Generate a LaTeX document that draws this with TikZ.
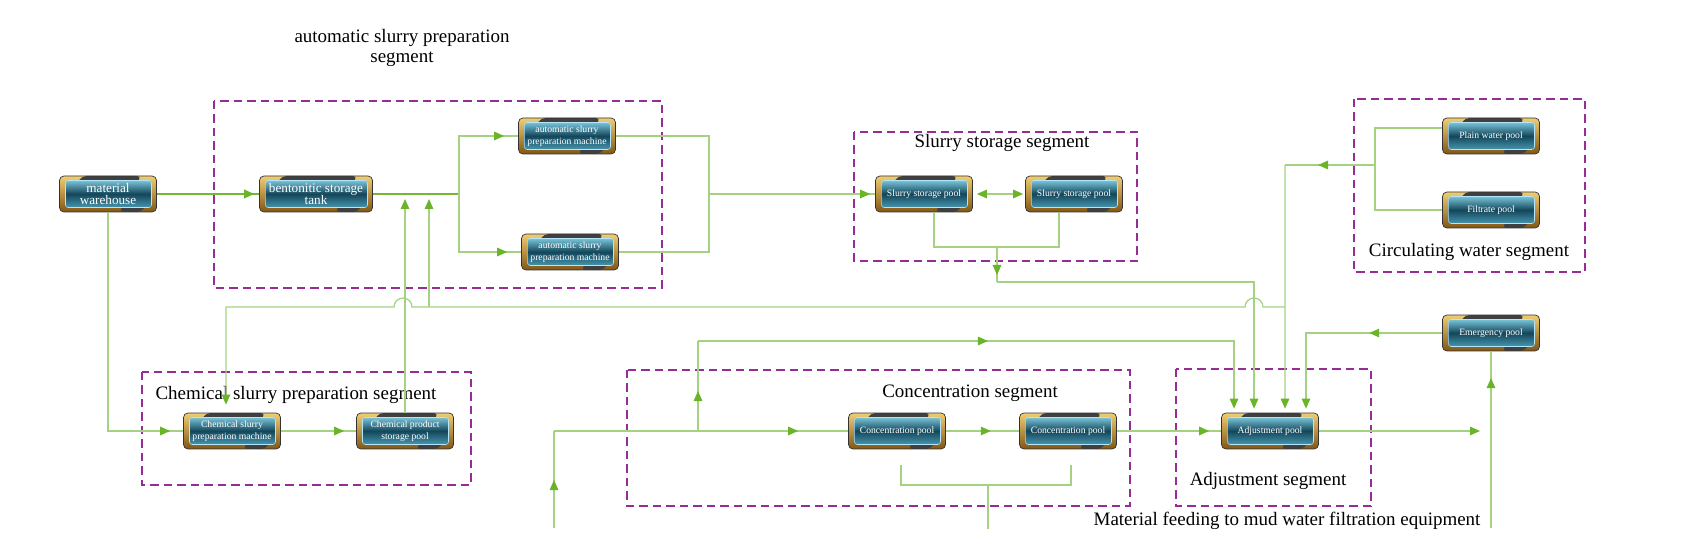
\documentclass[tikz,border=0pt]{standalone}
\usepackage{fontspec}
\setmainfont{Liberation Serif}
\usetikzlibrary{calc}
\usetikzlibrary{arrows.meta}
\usetikzlibrary{decorations.markings}
\definecolor{lcol}{RGB}{165,210,130}
\definecolor{acol}{RGB}{105,180,40}
\definecolor{mcol}{RGB}{115,185,55}
\definecolor{segcol}{RGB}{150,45,150}
\definecolor{goldA}{RGB}{240,205,115}
\definecolor{goldB}{RGB}{130,85,20}
\definecolor{tealA}{RGB}{120,195,215}
\definecolor{tealM}{RGB}{20,70,90}
\definecolor{tealB}{RGB}{70,150,175}
\newcommand{\segfont}{\fontsize{10.8}{11.5}\selectfont}
\newcommand{\poolfont}{\fontsize{5.5}{6.5}\selectfont}
\newcommand{\bigpoolfont}{\fontsize{7.5}{7}\selectfont}
\tikzset{
  midtip/.style={postaction={decorate}, decoration={markings, mark=at position #1 with {\arrow{>}}}},
  pool/.style={rounded corners=2.5pt, minimum width=1.94cm, minimum height=0.72cm, inner sep=0pt,
    draw=black!80, line width=0.4pt, top color=goldA, bottom color=goldB,
    text=white, font=\poolfont, align=center,
    path picture={
      \path (path picture bounding box.south west) coordinate (pp1)
            (path picture bounding box.north east) coordinate (pp2);
      \fill[black!75] ($(pp1|-pp2)+(0.45cm,0cm)$) -- ($(pp2)+(-0.3cm,0cm)$)
        -- ($(pp2)+(-0.4cm,-0.15cm)$) -- ($(pp1|-pp2)+(0.35cm,-0.15cm)$) -- cycle;
      \fill[black!75] ($(pp1-|pp2)+(-0.3cm,0cm)$) -- ($(pp1-|pp2)+(-0.75cm,0cm)$)
        -- ($(pp1-|pp2)+(-0.65cm,0.15cm)$) -- ($(pp1-|pp2)+(-0.2cm,0.15cm)$) -- cycle;
      \shadedraw[draw=white!70!cyan, line width=0.3pt, rounded corners=1.5pt,
        top color=tealA, bottom color=tealB, middle color=tealM]
        ($(pp1)+(0.12cm,0.09cm)$) rectangle ($(pp2)+(-0.1cm,-0.09cm)$);
    }}
}

\begin{document}
\begin{tikzpicture}[x=0.02cm, y=-0.02cm, >={Triangle[length=0.2cm, width=0.17cm, color=acol]}]
\tikzstyle{flow}=[draw=lcol, line width=0.7pt]
\tikzstyle{mainflow}=[draw=mcol, line width=1.2pt]
\tikzstyle{seg}=[draw=segcol, line width=0.8pt, dash pattern=on 0.17cm off 0.1cm]
\tikzstyle{segtitle}=[font=\segfont, align=center, inner sep=0pt]

\path[use as bounding box] (0,0) rectangle (1700,553);

% segments
\draw[seg] (214,101) rectangle (662,288);
\draw[seg] (854,132) rectangle (1137,261);
\draw[seg] (1354,99) rectangle (1585,272);
\draw[seg] (142,372) rectangle (471,485);
\draw[seg] (627,370) rectangle (1130,506);
\draw[seg] (1176,369) rectangle (1371,506);

\node[segtitle] (tA) at (402,48) {automatic slurry preparation\\segment};
\node[segtitle] (tS) at (1002,143) {Slurry storage segment};
\node[segtitle] (tW) at (1469,252) {Circulating water segment};
\node[segtitle] (tC) at (296,395) {Chemical slurry preparation segment};
\node[segtitle] (tK) at (970,393) {Concentration segment};
\node[segtitle] (tJ) at (1268,481) {Adjustment segment};
\node[segtitle] (tM) at (1287,521) {Material feeding to mud water filtration equipment};

% pools and machines
\node[pool, font=\bigpoolfont] (wh) at (108,194) {material\\warehouse};
\node[pool, font=\bigpoolfont, minimum width=2.26cm] (bt) at (316,194) {bentonitic storage\\tank};
\node[pool] (am1) at (567,136) {automatic slurry\\preparation machine};
\node[pool] (am2) at (570,252) {automatic slurry\\preparation machine};
\node[pool] (sp1) at (924,194) {Slurry storage pool};
\node[pool] (sp2) at (1074,194) {Slurry storage pool};
\node[pool] (pw) at (1491,136) {Plain water pool};
\node[pool] (fp) at (1491,210) {Filtrate pool};
\node[pool] (ep) at (1491,333) {Emergency pool};
\node[pool] (cm) at (232,431) {Chemical slurry\\preparation machine};
\node[pool] (cp) at (405,431) {Chemical product\\storage pool};
\node[pool] (c1) at (897,431) {Concentration pool};
\node[pool] (c2) at (1068,431) {Concentration pool};
\node[pool] (ap) at (1270,431) {Adjustment pool};

\coordinate (j1) at (459,194);
\coordinate (j2) at (709,194);
\coordinate (wb) at (1375,165);
\coordinate (w1) at (1285,165);
\coordinate (w2) at (1285,307);
\coordinate (w3) at (429,307);
\coordinate (sb) at (997,247);
\coordinate (s1) at (997,282);
\coordinate (k0) at (554,528);
\coordinate (k1) at (554,431);
\coordinate (k2) at (698,431);
\coordinate (k3) at (698,341);
\coordinate (kb) at (988,485);
\coordinate (kb1) at (901,465);
\coordinate (kb2) at (1071,465);
\coordinate (kbe) at (988,529);
\coordinate (e0) at (1491,528);
\coordinate (ao) at (1480,431);

% automatic slurry preparation
\draw[mainflow, midtip=-0.1cm] (wh) -- (bt);
\draw[mainflow] (bt) -- (j1);
\draw[flow, midtip=-0.28cm] (j1) |- (am1);
\draw[flow, midtip=-0.28cm] (j1) |- (am2);
\draw[flow] (am1) -| (j2);
\draw[flow] (am2) -| (j2);
\draw[flow, midtip=-0.1cm] (j2) -- (sp1);

% slurry storage
\draw[flow, <->, shorten <=0.08cm, shorten >=0.04cm] (sp1) -- (sp2);
\draw[flow] ([xshift=0.2cm]sp1.south) |- (sb) -| ([xshift=-0.3cm]sp2.south);
\draw[flow, midtip=0.56cm] (sb) -- (s1);
\draw[flow, ->, shorten >=0.08cm] (s1) -| ([xshift=-0.32cm]ap.north);

% circulating water
\draw[flow] ($(pw.west)+(0,-8)$) -| (wb) |- (fp);
\draw[flow, midtip=1.14cm] (wb) -- (w1);
\draw[flow, ->, shorten >=0.08cm] (w1) -- ([xshift=0.3cm]ap.north);
\draw[flow, ->, shorten >=0.16cm] (w2) -- (1263,307) arc (0:-180:9) -- (412,307) arc (0:-180:9)
  -- (226,307) -- ([xshift=-0.12cm]cm.north);
\draw[flow, ->, shorten >=0.1cm] (w3) -- (w3 |- bt.east);

% chemical slurry preparation
\draw[flow, midtip=-0.26cm] (wh.south) |- (cm);
\draw[flow, midtip=-0.24cm] (cm) -- (cp);
\draw[flow, ->, shorten >=0.1cm] (cp.north) -- (cp.north |- bt.east);

% concentration
\draw[flow, midtip=0.96cm] (k0) -- (k1);
\draw[flow, midtip=-1cm] (k1) -- (c1);
\draw[flow, midtip=0.8cm] (k2) -- (k3);
\draw[flow, midtip=5.8cm, ->, shorten >=0.08cm] (k3) -| ([xshift=-0.72cm]ap.north);
\draw[flow, midtip=0.9cm] (c1) -- (c2);
\draw[flow] (kb1) |- (kb) -| (kb2);
\draw[flow] (kb) -- (kbe);

% adjustment
\draw[flow, midtip=-0.24cm] (c2) -- (ap);
\draw[flow, ->] (ap) -- (ao);
\draw[flow, midtip=1.46cm, ->, shorten >=0.08cm] (ep) -| ([xshift=0.72cm]ap.north);
\draw[flow, midtip=3cm] (e0) -- (ep.south);
\end{tikzpicture}
\end{document}
